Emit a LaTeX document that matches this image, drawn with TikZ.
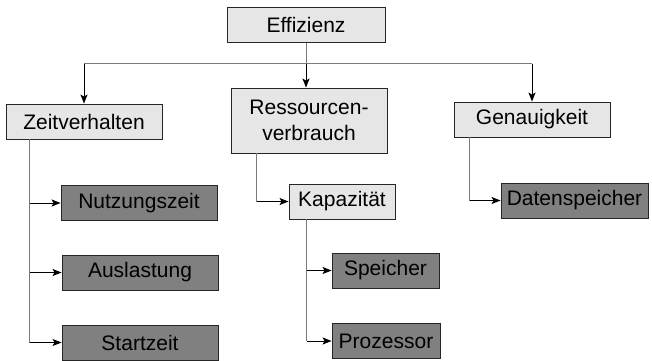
\documentclass[tikz,border=0pt]{standalone}
\usepackage{fontspec}
\setmainfont{Liberation Sans}
\usetikzlibrary{arrows.meta}
\definecolor{boxlight}{HTML}{E6E6E6}
\definecolor{boxdark}{HTML}{808080}
\definecolor{trunkgray}{HTML}{7A7A7A}
\tikzset{
  box/.style={draw=black!85, line width=0.9pt, inner sep=0pt, align=center,
    font=\fontsize{21}{26.5}\selectfont, minimum height=35pt},
  light/.style={box, fill=boxlight},
  darkbox/.style={box, fill=boxdark},
  trunk/.style={draw=trunkgray, line width=1pt},
  branch/.style={draw=black, line width=1pt, -{Stealth[length=9pt,width=7pt,inset=2pt]}},
}
\begin{document}
\begin{tikzpicture}[x=1pt,y=-1pt]
\useasboundingbox (0,0) rectangle (652,360);

% top level
\node[light, minimum width=158pt] (eff) at (306,25) {Effizienz};

% second level
\node[light, minimum width=156pt] (zeit) at (84,121.5) {Zeitverhalten};
\node[light, minimum width=156pt, minimum height=65pt] (ress) at (309,120.5) {Ressourcen-\\verbrauch};
\node[light, minimum width=156pt] (gen) at (532,119.5) {Genauigkeit};

% third level
\node[darkbox, minimum width=156pt] (nutz) at (139,203) {Nutzungszeit};
\node[darkbox, minimum width=156pt] (ausl) at (140,272.5) {Auslastung};
\node[darkbox, minimum width=156pt] (start) at (140,342.5) {Startzeit};
\node[light, minimum width=106pt] (kap) at (342,201.5) {Kapazität};
\node[darkbox, minimum width=107pt] (speich) at (385.5,270.5) {Speicher};
\node[darkbox, minimum width=108pt] (proz) at (386,341) {Prozessor};
\node[darkbox, minimum width=147pt] (daten) at (574.5,200.5) {Datenspeicher};

% distribution bar below the root
\coordinate (bus) at (306,63.5);
\draw[trunk] (eff.south) -- (bus);
\draw[trunk] (bus -| zeit.north) -- (bus -| gen.north);
\draw[branch] (bus -| zeit.north) -- (zeit.north);
\draw[branch] (bus) -- (bus |- ress.north);
\draw[branch] (bus -| gen.north) -- (gen.north);

% Zeitverhalten
\coordinate (zt) at ([xshift=24pt]zeit.south west);
\draw[trunk] (zt) -- (zt |- start.west);
\draw[branch] (zt |- nutz.west) -- (nutz.west);
\draw[branch] (zt |- ausl.west) -- (ausl.west);
\draw[branch] (zt |- start.west) -- (start.west);

% Ressourcenverbrauch
\coordinate (rt) at ([xshift=26pt]ress.south west);
\draw[trunk] (rt) -- (rt |- kap.west);
\draw[branch] (rt |- kap.west) -- (kap.west);

% Kapazität
\coordinate (kt) at ([xshift=18pt]kap.south west);
\draw[trunk] (kt) -- (kt |- proz.west);
\draw[branch] (kt |- speich.west) -- (speich.west);
\draw[branch] (kt |- proz.west) -- (proz.west);

% Genauigkeit
\coordinate (gt) at ([xshift=16pt]gen.south west);
\draw[trunk] (gt) -- (gt |- daten.west);
\draw[branch] (gt |- daten.west) -- (daten.west);
\end{tikzpicture}
\end{document}
